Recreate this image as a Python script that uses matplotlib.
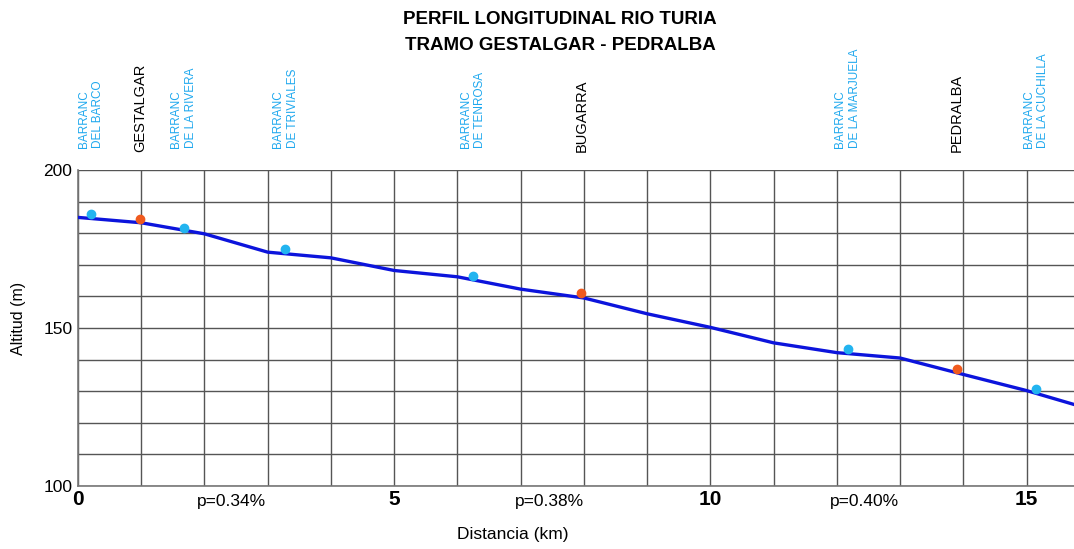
import matplotlib
matplotlib.use("Agg")
from matplotlib import pyplot as plt
import numpy as np

plt.rcParams["font.family"] = ["Liberation Sans", "DejaVu Sans"]

# river profile (km, m)
dist = [0, 1, 2, 3, 4, 5, 6, 7, 8, 9, 10, 11, 12, 13, 14, 15, 15.75]
alt = [185.0, 183.3, 179.8, 174.0, 172.2, 168.2, 166.2, 162.3, 159.5,
       154.5, 150.2, 145.3, 142.2, 140.5, 135.3, 130.2, 125.8]

# barrancs (blue dots)
barr_names = ["BARRANC\nDEL BARCO", "BARRANC\nDE LA RIVERA", "BARRANC\nDE TRIVIALES",
              "BARRANC\nDE TENROSA", "BARRANC\nDE LA MARJUELA", "BARRANC\nDE LA CUCHILLA"]
barr_x = [0.2, 1.67, 3.28, 6.25, 12.17, 15.15]
barr_y = [186.0, 181.6, 175.0, 166.5, 143.4, 130.7]

# towns (red dots)
town_names = ["GESTALGAR", "BUGARRA", "PEDRALBA"]
town_x = [0.98, 7.96, 13.9]
town_y = [184.6, 161.0, 137.0]

# slopes
slope_labels = ["p=0.34%", "p=0.38%", "p=0.40%"]
slope_x = [2.43, 7.46, 12.44]

blue_lbl = "#1ea8ee"

fig = plt.figure(figsize=(10.74, 5.49), dpi=100)
ax = fig.add_axes([78 / 1074, 1 - 486 / 549, 1 - 78 / 1074, (486 - 170) / 549])

ax.set_xlim(0, 15.75)
ax.set_ylim(100, 200)
ax.set_xticks(np.arange(0, 16, 1))
ax.set_xticklabels([str(int(v)) if v % 5 == 0 else "" for v in np.arange(0, 16, 1)],
                   fontsize=15, fontweight="bold")
ax.set_yticks(np.arange(100, 201, 10))
ax.set_yticklabels([str(v) if v % 50 == 0 else "" for v in range(100, 201, 10)],
                   fontsize=12.5)
ax.tick_params(length=0, pad=4)
ax.tick_params(axis="x", pad=3)
ax.grid(True, color="#555555", linewidth=1.0)
ax.set_axisbelow(True)
for s in ["top", "right"]:
    ax.spines[s].set_visible(False)
for s in ["left", "bottom"]:
    ax.spines[s].set_color("#777777")
    ax.spines[s].set_linewidth(1.2)

ax.plot(dist, alt, color="#0c14dc", linewidth=2.4, zorder=3)
ax.plot(barr_x, barr_y, "o", color="#22b4f0", markersize=6, zorder=4)
ax.plot(town_x, town_y, "o", color="#f05a1e", markersize=6, zorder=4)

# labels above the plot
for name, x in zip(barr_names, barr_x):
    ax.annotate(name, (x, 200), xytext=(0, 16), textcoords="offset points",
                rotation=90, ha="center", va="bottom", fontsize=8.5,
                color=blue_lbl, linespacing=1.25, multialignment="left",
                annotation_clip=False)
for name, x in zip(town_names, town_x):
    ax.annotate(name, (x, 200), xytext=(0, 13), textcoords="offset points",
                rotation=90, ha="center", va="bottom", fontsize=10.5,
                color="black", annotation_clip=False)

for lab, x in zip(slope_labels, slope_x):
    ax.annotate(lab, (x, 100), xytext=(0, -6), textcoords="offset points",
                ha="center", va="top", fontsize=12.5, annotation_clip=False)

ax.set_ylabel("Altitud (m)", fontsize=11.5)
ax.yaxis.set_label_coords(-0.052, 0.53)
fig.text(513 / 1074, 1 - 535 / 549, "Distancia (km)", ha="center", va="center",
         fontsize=12.5)

fig.text(560 / 1074, 1 - 20 / 549, "PERFIL LONGITUDINAL RIO TURIA",
         ha="center", va="center", fontsize=13.5, fontweight="bold")
fig.text(560 / 1074, 1 - 45 / 549, "TRAMO GESTALGAR - PEDRALBA",
         ha="center", va="center", fontsize=13.5, fontweight="bold")

fig.savefig("out.png", dpi=100)
